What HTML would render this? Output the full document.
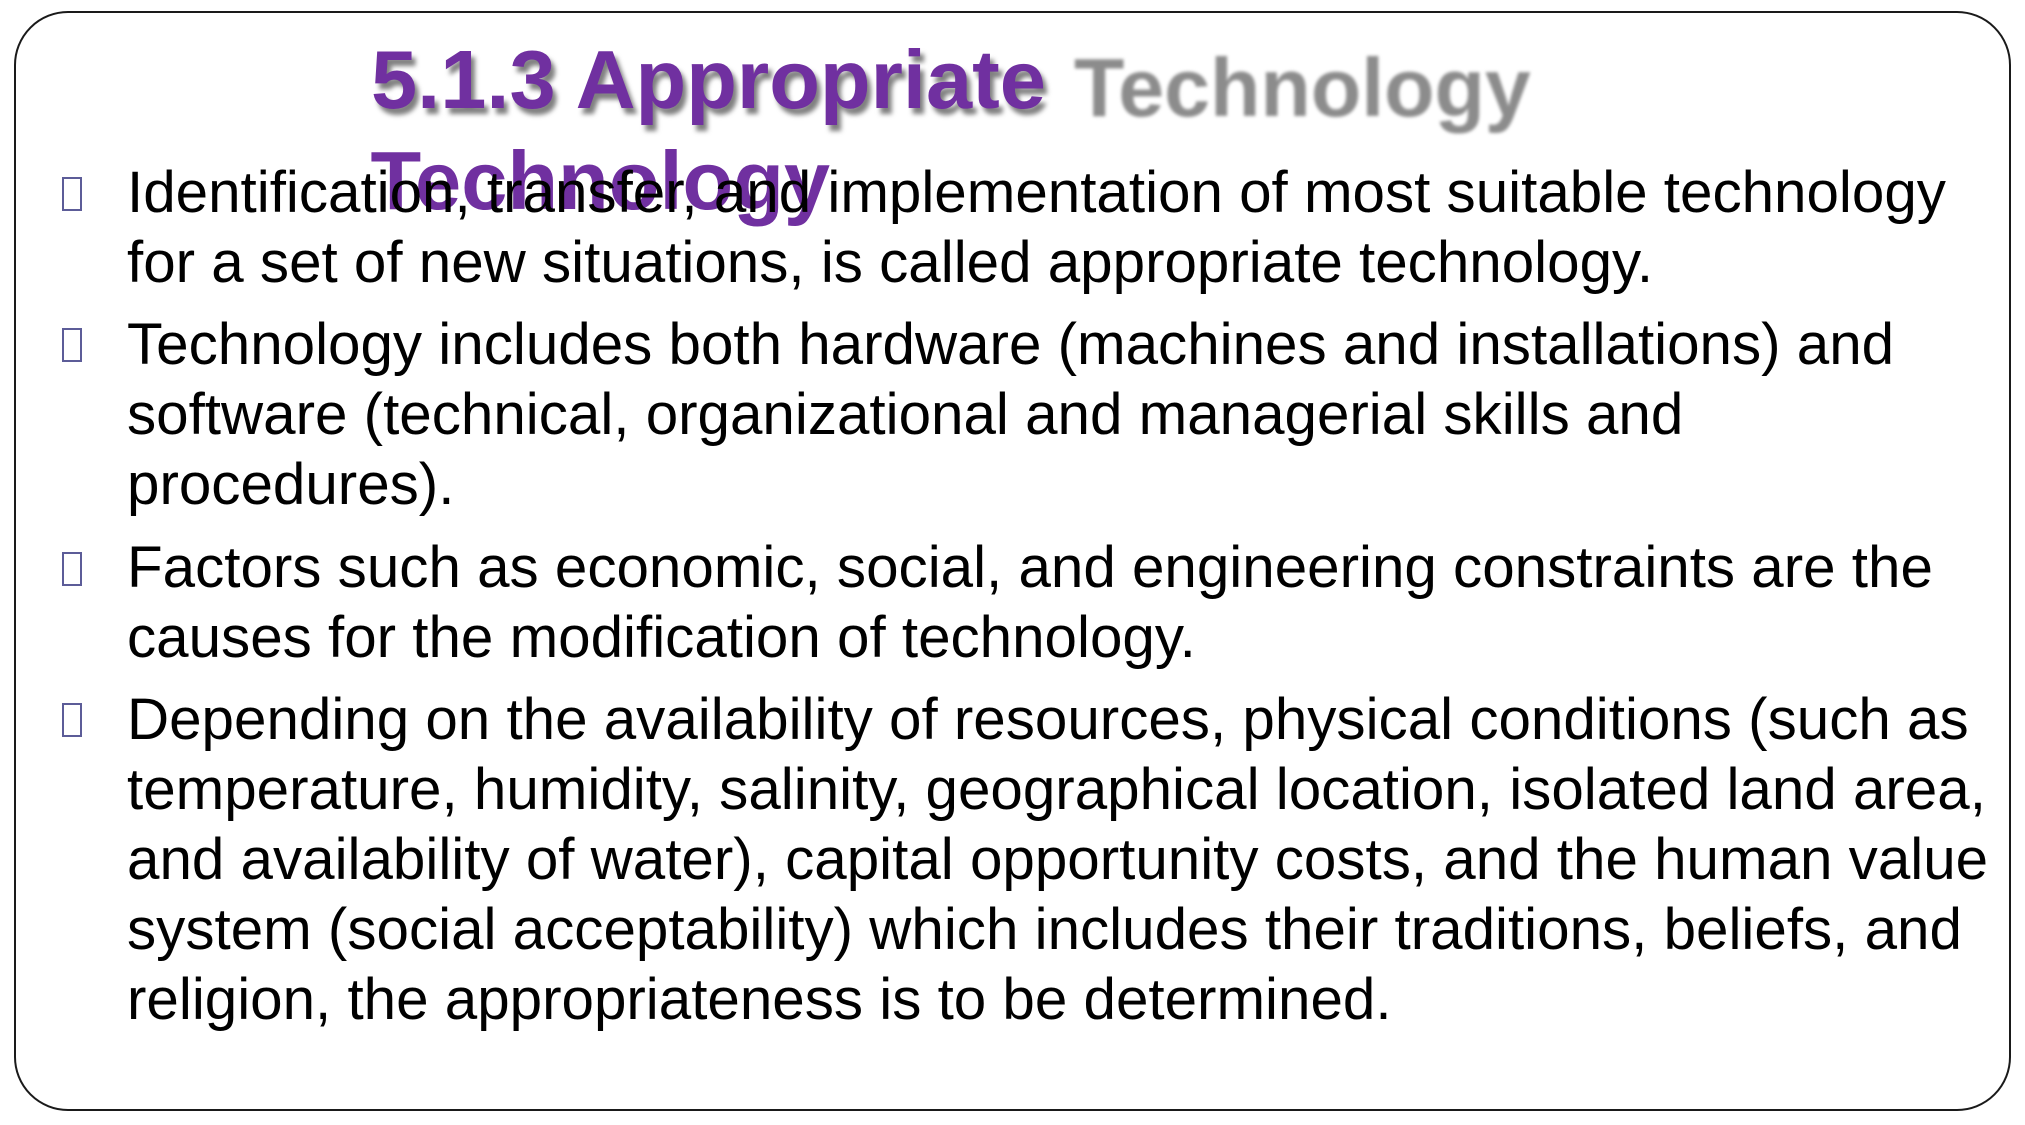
<!DOCTYPE html>
<html lang="en">
<head>
<meta charset="utf-8">
<title>5.1.3 Appropriate Technology</title>
<style>
html,body{margin:0;padding:0;background:#fff;}
#slide{position:relative;width:2025px;height:1125px;overflow:hidden;background:#fff;font-family:"Liberation Sans",Arial,sans-serif;}
#frame{position:absolute;left:14px;top:11px;width:1993px;height:1096px;border:2px solid #1a1a1a;border-radius:54px;box-sizing:content-box;}
.t{position:absolute;white-space:pre;font-weight:bold;font-size:83px;line-height:98px;color:#7030a0;}
.s{text-shadow:4px 6px 5px rgba(0,0,0,.5);}
#ghost{position:absolute;white-space:pre;font-weight:bold;font-size:82.5px;line-height:98px;color:#8c8c8c;left:1074px;top:39px;filter:blur(1.6px);}
.l{position:absolute;left:127px;white-space:pre;font-size:58.33px;line-height:70px;color:#000;}
.b{position:absolute;left:62px;width:16px;height:30px;border:2.5px solid #5c5c98;}
</style>
</head>
<body>
<div id="slide">
  <div id="frame"></div>
  <div id="ghost">Technology</div>
  <div class="t s" style="left:371px;top:31px">5.1.3 Appropriate</div>
  <div class="t" style="left:370.5px;top:132px">Technology</div>

  <div class="b" style="top:177px"></div>
  <div class="l" style="top:158px">Identification, transfer, and implementation of most suitable technology</div>
  <div class="l" style="top:228px">for a set of new situations, is called appropriate technology.</div>

  <div class="b" style="top:328px"></div>
  <div class="l" style="top:310px">Technology includes both hardware (machines and installations) and</div>
  <div class="l" style="top:380px">software (technical, organizational and managerial skills and</div>
  <div class="l" style="top:450px">procedures).</div>

  <div class="b" style="top:552px"></div>
  <div class="l" style="top:533px">Factors such as economic, social, and engineering constraints are the</div>
  <div class="l" style="top:603px">causes for the modification of technology.</div>

  <div class="b" style="top:703px"></div>
  <div class="l" style="top:685px">Depending on the availability of resources, physical conditions (such as</div>
  <div class="l" style="top:755px">temperature, humidity, salinity, geographical location, isolated land area,</div>
  <div class="l" style="top:825px">and availability of water), capital opportunity costs, and the human value</div>
  <div class="l" style="top:895px">system (social acceptability) which includes their traditions, beliefs, and</div>
  <div class="l" style="top:965px">religion, the appropriateness is to be determined.</div>
</div>
</body>
</html>
